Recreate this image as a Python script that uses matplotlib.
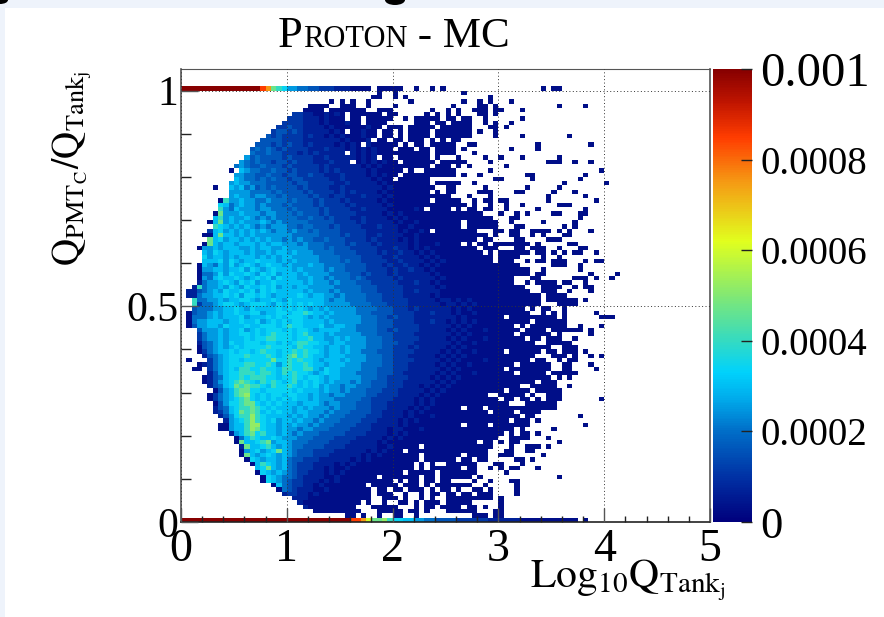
import numpy as np
import matplotlib
matplotlib.use("Agg")
import matplotlib.pyplot as plt
from matplotlib.colors import LinearSegmentedColormap
from matplotlib.patches import Rectangle, Ellipse
from matplotlib.ticker import MultipleLocator, FixedLocator

plt.rcParams['font.family'] = ['Liberation Serif', 'DejaVu Serif']
plt.rcParams['mathtext.fontset'] = 'stix'

TITLE_PARTS = [("P", 32), ("ROTON", 22), (" - MC", 31)]
X_LABEL = r"$\mathrm{Log}_{10}\mathrm{Q}_{\mathrm{Tank}_{\mathrm{j}}}$"
Y_LABEL = r"$\mathrm{Q}_{\mathrm{PMT}_{\mathrm{C}}}/\mathrm{Q}_{\mathrm{Tank}_{\mathrm{j}}}$"
X_TICKS = [0, 1, 2, 3, 4, 5]
Y_TICKS = [0, 0.5, 1]
Y_TICK_LABELS = ["0", "0.5", "1"]
CBAR_TICKS = [0, 0.0002, 0.0004, 0.0006, 0.0008, 0.001]
CBAR_TICK_LABELS = ["0", "0.0002", "0.0004", "0.0006", "0.0008", "0.001"]

# bin content for each letter
LEVELS = {'1': .00003, '2': .00007, '3': .00011, '4': .00016, '5': .0002, '6': .00025,
          '7': .0003, '8': .00034, '9': .0004, 'a': .00047, 'b': .00052, 'c': .0006,
          'd': .00065, 'e': .00075, 'f': .00085, 'g': .00095, 'h': .001}

# bins of Q_PMT/Q_Tank = 1 and = 0
TOP_STRIP = "hhhhhhhhhhhhhhhfea98665544333222111 1"
TOP_RUNS = "37-41 44 47 49 68 70 71"
BOTTOM_STRIP = "hhhhhhhhhh hhhhhhhhhh hhhhhhhhhh hhffecaab9 8877665544 4433333322 2222111111 11111.1"

# rows from 0.99-1.00 downwards to 0.01-0.02; each with cell letters, then isolated low-count bins
ROWS = [
("", "37 40 53"),
("", "36 37 40 42 58"),
("", "28 30 32 35 43 53 56 58 62"),
("", "24-27 30-32 35 40 51 56 57 59 71 76"),
("", "23-26 28-34 37-39 47 50 52 55-57 59 60 64"),
(".......... .......... .332211212 1.111111.1 1.....1.1.", "50 52 56 57 59"),
(".......... .......... 3332221211 1.11.11111 ..1.11111.", "50 51 53 54 57 64"),
(".......... .........3 3332221211 1211.1111. ....111.11", "51-54 57 59 62"),
(".......... ........33 4332222121 11111211.1 11.11111..", "49-54 58 59 61"),
(".......... .......344 3432222212 1.11211.11 .1.1111.11", "50-54 56 59"),
(".......... ......4343 3332322121 2111211.11 .1.1111.11", "50-54 59 64 73"),
(".......... .....44443 3332222222 121112.11. 11.111.1.1", "51 52"),
(".......... ....444343 4332322221 2121.21111 1.1.11.111", "50 51 54 55 67 77"),
(".......... ...4545434 3333222322 2121212111 .111.11.11", "50 51 53 62 67"),
(".......... ...5445443 3323232222 2.21212111 1111111.11", "50 51 55"),
(".......... ..64544443 4333322322 2221212.11 .111111.1.", "52 57 60 64 71"),
(".......... .654544344 3433322232 22.1212121 1.111111.1", "50-53 58 69-71 74 77"),
(".......... 5654454443 4333332322 2222121211 1111111.11", "50 52 54 61"),
(".........1 .765544544 3433332323 2222212111 11.1..1111", "50 51 58 79"),
(".......... 6655445443 4433433222 3222212121 1.11111111", "50 51 53 56 65 66 76"),
(".......... 7655454544 3443333322 3222221211 .111111...", "59 60 66 75"),
(".........6 7665554444 4344333332 2322222121 1111111.11", "50-52 55 72 80"),
("......1..7 6756454544 4434333322 3222222212 11111111..", "50 51 57 65 71"),
(".........6 6665555454 4443433332 3232222121 1111111.1.", "50 51 56-58 63 64 70 74"),
(".........6 7665665545 4444343323 3222322212 1111111111", "50 54 58 69 76"),
(".......196 6766556555 4544434333 2322222121 1111111.11", "50-52 55 57 58 60 61 69 78"),
(".......875 6766565554 5444434333 3232222212 1111111111", "50-53 55 58 61 64 71-73"),
(".......965 7666566555 4544443433 3322322221 111121.111", "50 52 54 55 57 58 61 67 76"),
("......1a66 6766656655 5454443433 3332222212 1211111111", "50-56 60 63 65 70 71 75 76"),
("......7967 6676565655 5544544343 3322322221 2121111111", "50-58 62 63 75"),
(".....17a67 6766676565 5555444443 3332322222 1211211111", "50-52 54-59 62 68 74"),
("......9876 7676565666 5545544434 3333222322 2112111111", "50-52 54-59 63 64 72 74"),
(".....37867 6767676566 5655454444 3333322222 2121121.11", "50-55 59 60 62 63 66-69 71 73 77"),
("....117a77 6767666666 6555554444 3433322322 2211211111", "50-57 59 62 63 66 68 72 73"),
(".....a7867 7676767665 6565544544 4333323222 2121211111", "50-55 57 58 63 64 69-71"),
("....1a7677 6777676776 6656555444 4343332322 2221211121", "50-52 54 56 57 59-65 67 73 74"),
("...1667677 7667677667 6666555454 4433333222 3221212111", "50-55 57-59 63 64 66-68 71 75 76"),
("....768767 7767667677 6766655554 4443333232 2322121211", "50-56 58 60-65 67 68 70 72 74 75 78"),
("....867767 6777676767 7666665555 4444333322 3222212121", "50-58 60-63 68 71"),
("....777868 7677877767 6766665555 4544333332 2322221212", "50-58 60-62 65 67 68 70-72 76 78 79"),
("...1765768 6787678776 7666766555 5444433323 2232212121", "50-63 70-72 75"),
("...1667767 7868767877 7676666565 5444433332 3223221211", "50-65 68 75"),
("...1556868 7787687867 7767666655 5544343332 3222222121", "50-65 67 68 77 82"),
("...1657877 8767878687 7766766565 5545433333 2322222212", "50-62 66 67 74-76 78 81"),
("...2566787 6878677877 7776766656 5554443333 3222322121", "50-62 65 67-70 72 73 76"),
("..29566768 7687787867 7677666665 5555444333 3322222212", "50-64 68-71 74 76 77"),
(".224567687 7878687877 7776766656 5555444333 3322322221", "50-65 68-70 73 77"),
(".225667787 8688787677 7787677665 6555544433 3322222121", "50-67 69-72"),
("..95566767 7887677876 8777777656 6555544433 3332222212 2121211111", "60-67 69-74 76"),
("..93556788 7678887687 8787877666 6655554443 3332222221 2212121111", "60-67 71-74"),
("..45556677 8768777787 8787676766 6665555444 3332322222 2121211111", "60-64 66 68 69 72"),
(".145567677 8778867788 7889877676 6665554444 3333222322 2121121111", "60-65 68 70 72 78"),
(".155567677 7867778787 8887676766 6666555443 4333222222 2212111111", "60 62-70 72 79-81"),
(".156677767 7877867878 7887777676 6666555444 3333222322 1212121111", "60-65 67-72"),
(".146677687 7787788878 9887778667 7665555444 3333322222 2121211111", "60-62 64 66-72 75 79"),
("...4666767 7867878887 8788767777 6665555443 4333322222 1212111211", "60-63 65-68 70-75 77"),
("...3566767 7887878988 8789777676 6666555444 3333222222 2121211111", "60-62 64-69 71 77"),
("...3566767 7787889988 8788977667 6766655544 3333322222 1212111211", "60-64 66 67 69-71 74"),
("...2456768 7788878878 7899887767 7666655544 4333222222 2121121111", "60-66 69-73"),
("...1456767 8788889888 8798877677 6766655544 3332322222 1212111111", "60-69 72-74"),
("...1356778 7887898878 8989887677 6766555444 3333222221 2121121111", "60 62-67 69 70 72-74 76"),
("....245678 8898889878 9a89877677 7666655544 3332222212 1212111111", "60-66 70-72 74 77 79"),
(".1...35678 8788888a88 9898876777 6766655544 3333222221 2121111211", "60-65 67 68 71 73 74"),
("...1235678 8899889868 9889877677 7666555544 3332222212 1211211111", "60-62 64-69 72 73 77"),
("..11.35678 7998898879 9889976877 6666555444 3332222221 2121111111", "60 62-69 72 73 78"),
(".....24678 8999899879 8988767877 6665555444 3322222212 1211121111", "60-62 64-68 70-74"),
("....124578 8989998878 8987887677 6666555443 3332222121 2121111111", "60-69 71 73"),
("....124678 9a98798987 8978787676 6656554443 3322222212 1211111111", "60-66 68-70"),
(".....24578 a9a9987988 9878786766 5665554443 3322212121 2111111111", "60-63 66-70 73"),
("......1467 9aa8878888 8787776766 5655544433 3222221212 1111111111", "60 62-65 67-71"),
(".....13567 9ab8787887 8877676656 6555544333 3222212121", "50-57 60-64 66 69-71"),
(".....13567 89a8787878 7877676665 5555443333 2222121211", "50-59 61 62 64 65 67 69-71 79"),
("......1468 89aa878787 7767776566 5554443332 2222121211", "50-61 65-70"),
("......2457 899a987877 7676766656 5554443332 2221212111", "50-52 54-56 58-70"),
("......2357 8a9a978787 7677666565 5544443322 2212121111", "50-57 59-62 64-67"),
(".......246 899b987777 6767665655 5444433322 2212111211", "50-63 65 66 75"),
("........26 789b987867 7676656555 4444333222 2121211111", "50-61 63-65 67"),
(".......116 779bb87767 6766565554 4443332222 2121111111", "50-52 54-57 59-65 76"),
(".......116 779ba87767 6656655544 4433332221 2211121111", "50-62 64 70"),
(".........2 679a897767 6565554444 4333322221 2121111111", "50-60 62 64 65 67"),
(".......... 1579877876 6655544443 3332222212 1211111111", "50-59 62-65 69"),
(".......... 1a7789a677 6555444433 3322222121 1111111111", "50-55 57 58 60 62 63 71"),
(".......... .2a7789767 6554444333 3222222112 11111.1111", "50-58 62 65-67 69"),
(".......... .1678678a7 6544433332 2222212121 11.1111111", "50-57 61 62 65 66"),
(".......... .1a7678767 6544433322 2222121211 11111.1111", "50-52 54-57 60-62 68"),
(".......... ..18767767 5443332222 2212121111 11111.1111", "50 51 53 54 56 57 63 64 66"),
(".......... ...1798767 5433322221 2121111111 1111.1.1..", "50-55 59 60 64"),
(".......... ....78a767 5433322121 1211111111 1111.1.111", "50-52 54 55 58 60 62 63 67"),
(".......... ....187676 5433222121 2111111111 11.11111.1", "50-55 61"),
(".......... .....18765 5432222112 1111111.11 11111.11.1", "50-54 56 71"),
(".......... .....18765 4332221212 1111111111 .1.11.11.1", "50 55 58 62 63"),
(".......... .......175 4332212111 11111.1111 1.111.1.11", "50-54 57 63"),
(".......... ........15 4322211211 111111.11. 11.111.1.1", "50 52 55 56 58 63"),
(".......... .........2 3322121111 111111.111 ..1..1.11.", "50 51 53 54 56-58 63"),
(".......... .......... .222111111 111111..11 1.1..1.1..", "50-58 60"),
(".......... .......... ..21111111 1111.1..1. .11.1.111.", "50-54 60"),
(".......... .......... ...2111111 111...1111 1...1.11.1", "50-52 54 55 57 60"),
(".......... .......... .....11111 1111...111 11.11.1...", "50-55 59 60"),
(".......... .......... .......... .11.1..1.. 11..1.....", "55-57 59 60"),
]

# bin edges
x_edges = np.linspace(0, 5, 101)
y_edges = np.linspace(0, 1.05, 106)


def fill_row(grid, j, cells, runs=""):
    for i, ch in enumerate(cells.replace(" ", "")):
        if ch in LEVELS:
            grid[j, i] = LEVELS[ch]
    for token in runs.split():
        a, _, b = token.partition("-")
        for i in range(int(a), int(b or a) + 1):
            if np.isnan(grid[j, i]):
                grid[j, i] = LEVELS['1']


grid = np.full((105, 100), np.nan)
fill_row(grid, 100, TOP_STRIP, TOP_RUNS)
fill_row(grid, 0, BOTTOM_STRIP)
for n, (cells, runs) in enumerate(ROWS):
    fill_row(grid, 99 - n, cells, runs)

W, H = 884, 617
fig = plt.figure(figsize=(W / 100, H / 100), dpi=100, facecolor='white')
fig.add_artist(Rectangle((0, 1 - 8 / H), 1, 8 / H, transform=fig.transFigure, color='#eef3fb', lw=0))
fig.add_artist(Rectangle((0, 0), 5 / W, 1, transform=fig.transFigure, color='#eef3fb', lw=0))
# bottoms of the cropped letters from the slide line above the figure
fig.add_artist(Ellipse((395 / W, 1), 20 / W, 10 / H, transform=fig.transFigure, color='black', lw=0))
fig.add_artist(Ellipse((0, 1), 16 / W, 8 / H, transform=fig.transFigure, color='black', lw=0))

ax = fig.add_axes([181 / W, 1 - 522 / H, 529 / W, 453 / H])
cmap = LinearSegmentedColormap.from_list("root_rainbow", [
    (0.00, (0, 0, 125 / 255)), (0.10, (0, 50 / 255, 165 / 255)), (0.20, (0, 110 / 255, 200 / 255)),
    (0.27, (0, 170 / 255, 235 / 255)), (0.33, (0, 210 / 255, 252 / 255)), (0.41, (60 / 255, 220 / 255, 185 / 255)),
    (0.50, (130 / 255, 232 / 255, 115 / 255)), (0.62, (225 / 255, 255 / 255, 30 / 255)), (0.75, (245 / 255, 155 / 255, 20 / 255)),
    (0.85, (255 / 255, 60 / 255, 0)), (0.93, (190 / 255, 20 / 255, 0)), (1.00, (135 / 255, 0, 0))])
cmap.set_bad((1, 1, 1, 0))
mesh = ax.pcolormesh(x_edges, y_edges, np.ma.masked_invalid(grid), cmap=cmap, vmin=0, vmax=0.001,
                     shading='flat', linewidth=0, rasterized=True, zorder=1)
ax.set_xlim(0, 5)
ax.set_ylim(0, 1.05)
ax.grid(True, which='major', color='#333333', linestyle=(0, (1, 2.5)), linewidth=0.7, zorder=3)
ax.set_axisbelow(False)
ax.xaxis.set_major_locator(FixedLocator(X_TICKS))
ax.xaxis.set_minor_locator(MultipleLocator(0.2))
ax.yaxis.set_major_locator(FixedLocator(Y_TICKS))
ax.yaxis.set_minor_locator(MultipleLocator(0.1))
ax.set_yticklabels(Y_TICK_LABELS)
ax.tick_params(axis='x', which='major', direction='in', length=10, width=1, color='#555555', labelsize=33, pad=5)
ax.tick_params(axis='x', which='minor', direction='in', length=4.5, width=1, color='#222222')
ax.tick_params(axis='y', which='major', direction='in', length=12, width=1, color='#555555', labelsize=30, pad=2)
ax.tick_params(axis='y', which='minor', direction='in', length=7, width=1, color='#222222')
for name, sp in ax.spines.items():
    sp.set_linewidth(1.2)
    sp.set_color('#555555')
ax.spines['bottom'].set_color('#222222')
ax.spines['top'].set_linewidth(0.8)

cax = fig.add_axes([713 / W, 1 - 522 / H, 39 / W, 453 / H])
cb = fig.colorbar(mesh, cax=cax)
cb.outline.set_visible(False)
cb.set_ticks(CBAR_TICKS)
cb.set_ticklabels(CBAR_TICK_LABELS)
cax.tick_params(axis='y', direction='in', length=8, width=1, color='#222222', labelsize=28, pad=6)
cax.minorticks_off()
for lab, txt in zip(cax.get_yticklabels(), CBAR_TICK_LABELS):
    if txt == "0.001":
        lab.set_fontsize(35)
    elif txt == "0":
        lab.set_fontsize(32)

fig.text(530 / W, 1 - 580 / H, X_LABEL, fontsize=30, ha='left', va='center')
fig.text(72 / W, 1 - 168 / H, Y_LABEL, fontsize=27, rotation=90, ha='center', va='center')

# small-capital title, laid out piece by piece
xpos = 278.0
renderer = fig.canvas.get_renderer()
for part, size in TITLE_PARTS:
    t = fig.text(xpos / W, 1 - 47 / H, part, fontsize=size, ha='left', va='baseline')
    xpos += t.get_window_extent(renderer).width + (6 if part.startswith(" ") else 0)

fig.savefig("out.png", dpi=100)
